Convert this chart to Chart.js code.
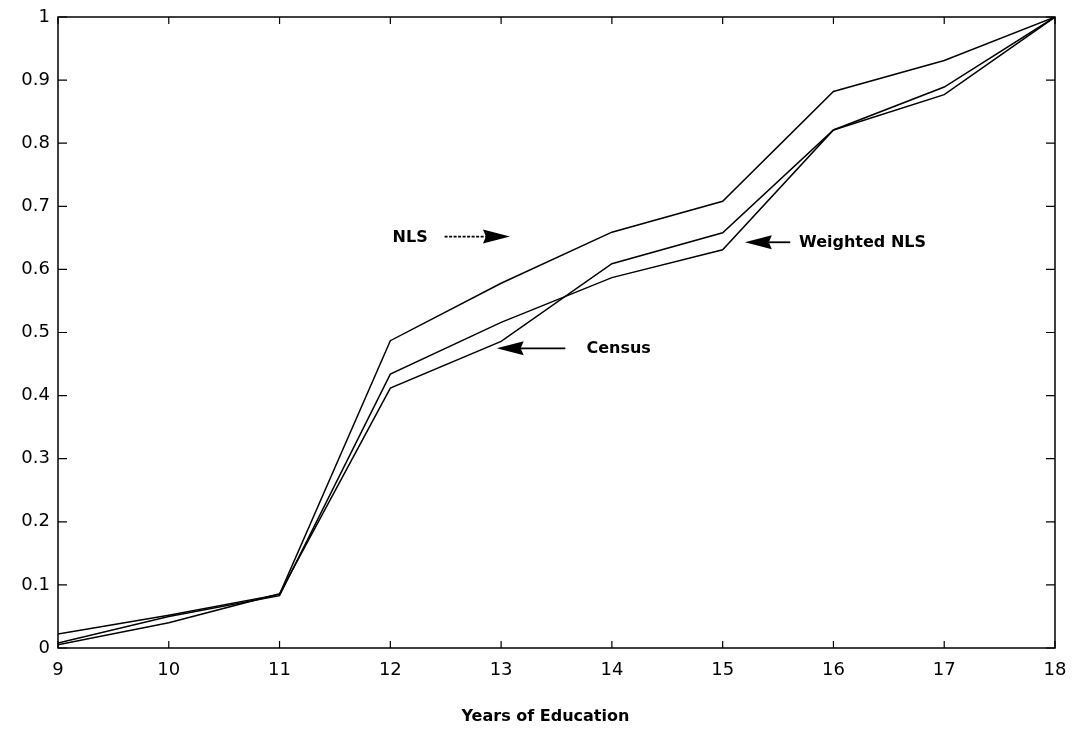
<!DOCTYPE html>
<html>
<head>
<meta charset="utf-8">
<script src="https://cdn.jsdelivr.net/npm/chart.js@4.4.1/dist/chart.umd.min.js"></script>
<style>
    html, body { margin: 0; padding: 0; background: #fff; }
    #wrap { width: 1072px; height: 729px; position: relative; }
</style>
</head>
<body>
<div id="wrap"><canvas id="eduChart"></canvas></div>
<script>
// Data
const years = [9, 10, 11, 12, 13, 14, 15, 16, 17, 18];
const nls = [0.022, 0.052, 0.085, 0.487, 0.578, 0.659, 0.708, 0.882, 0.931, 1.0];
const weightedNls = [0.008, 0.050, 0.083, 0.434, 0.516, 0.587, 0.631, 0.821, 0.877, 1.0];
const census = [0.005, 0.040, 0.086, 0.412, 0.486, 0.609, 0.658, 0.821, 0.889, 1.0];
const yTicks = [0, 0.1, 0.2, 0.3, 0.4, 0.5, 0.6, 0.7, 0.8, 0.9, 1];
const xTitle = 'Years of Education';

// Arrow labels, in data units
const notes = [
    { text: 'NLS', textX: 12.02, from: 12.49, to: 13.08, y: 0.652, dashed: true },
    { text: 'Weighted NLS', textX: 15.69, from: 15.61, to: 15.20, y: 0.643, dashed: false },
    { text: 'Census', textX: 13.77, from: 13.58, to: 12.96, y: 0.475, dashed: false }
];

const toPoints = vals => vals.map((v, i) => ({ x: years[i], y: v }));
const tickFont = { family: '"DejaVu Sans", sans-serif', size: 18 };

// Box round the plot with inward ticks, like the original
const framePlugin = {
    id: 'frame',
    afterDatasetsDraw(chart) {
        const { ctx, chartArea: a, scales: { x, y } } = chart;
        ctx.save();
        ctx.strokeStyle = '#000';
        ctx.lineWidth = 1.5;
        ctx.strokeRect(a.left, a.top, a.right - a.left, a.bottom - a.top);
        ctx.lineWidth = 1.2;
        ctx.beginPath();
        years.forEach(v => {
            const px = x.getPixelForValue(v);
            ctx.moveTo(px, a.bottom); ctx.lineTo(px, a.bottom - 7);
            ctx.moveTo(px, a.top); ctx.lineTo(px, a.top + 7);
        });
        yTicks.forEach(v => {
            const py = y.getPixelForValue(v);
            ctx.moveTo(a.left, py); ctx.lineTo(a.left + 9, py);
            ctx.moveTo(a.right, py); ctx.lineTo(a.right - 9, py);
        });
        ctx.stroke();

        // axis title, a bit left of centre as in the original
        ctx.fillStyle = '#000';
        ctx.font = 'bold 16px "DejaVu Sans", sans-serif';
        ctx.textAlign = 'center';
        ctx.textBaseline = 'middle';
        ctx.fillText(xTitle, x.getPixelForValue(13.4), chart.height - 12);
        ctx.restore();
    }
};

const arrowPlugin = {
    id: 'arrows',
    afterDatasetsDraw(chart) {
        const { ctx, scales: { x, y } } = chart;
        ctx.save();
        ctx.fillStyle = '#000';
        ctx.strokeStyle = '#000';
        ctx.font = 'bold 16px "DejaVu Sans", sans-serif';
        ctx.textBaseline = 'middle';
        notes.forEach(n => {
            const x0 = x.getPixelForValue(n.from);
            const x1 = x.getPixelForValue(n.to);
            const py = y.getPixelForValue(n.y);
            const dir = Math.sign(x1 - x0);
            const headLen = 27;
            // shaft
            ctx.lineWidth = 1.8;
            ctx.setLineDash(n.dashed ? [3, 1.5] : []);
            ctx.beginPath();
            ctx.moveTo(x0, py);
            ctx.lineTo(x1 - dir * (headLen - 4), py);
            ctx.stroke();
            ctx.setLineDash([]);
            // head
            ctx.beginPath();
            ctx.moveTo(x1, py);
            ctx.lineTo(x1 - dir * headLen, py - 7);
            ctx.lineTo(x1 - dir * (headLen - 3), py);
            ctx.lineTo(x1 - dir * headLen, py + 7);
            ctx.closePath();
            ctx.fill();
            // label
            ctx.textAlign = 'left';
            ctx.fillText(n.text, x.getPixelForValue(n.textX), py + 1);
        });
        ctx.restore();
    }
};

const lineStyle = {
    borderColor: '#000',
    borderWidth: 1.5,
    pointRadius: 0,
    tension: 0,
    fill: false
};

new Chart(document.getElementById('eduChart'), {
    type: 'line',
    data: {
        datasets: [
            { label: 'NLS', data: toPoints(nls), ...lineStyle },
            { label: 'Weighted NLS', data: toPoints(weightedNls), ...lineStyle },
            { label: 'Census', data: toPoints(census), ...lineStyle }
        ]
    },
    options: {
        responsive: true,
        maintainAspectRatio: false,
        animation: false,
        layout: { padding: { top: 17, right: 17, left: 0, bottom: 0 } },
        plugins: {
            legend: { display: false },
            tooltip: { enabled: false }
        },
        scales: {
            x: {
                type: 'linear',
                min: 9,
                max: 18,
                afterFit: s => {
                    s.height = 81;
                    s.paddingLeft = 0;
                    s.paddingRight = 0;
                },
                grid: { display: false, drawTicks: false },
                border: { display: false },
                ticks: {
                    stepSize: 1,
                    padding: 12,
                    color: '#000',
                    font: tickFont
                }
            },
            y: {
                min: 0,
                max: 1,
                afterFit: s => {
                    s.width = 58;
                    s.paddingTop = 0;
                    s.paddingBottom = 0;
                },
                grid: { display: false, drawTicks: false },
                border: { display: false },
                ticks: {
                    stepSize: 0.1,
                    padding: 8,
                    color: '#000',
                    font: tickFont,
                    callback: v => String(Math.round(v * 10) / 10)
                }
            }
        }
    },
    plugins: [framePlugin, arrowPlugin]
});
</script>
</body>
</html>
